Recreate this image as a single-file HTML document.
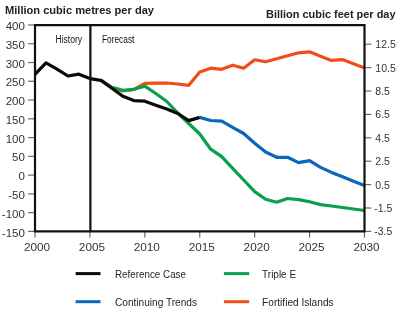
<!DOCTYPE html>
<html><head><meta charset="utf-8"><style>
html,body{margin:0;padding:0;background:#fff;}
svg{display:block;will-change:transform;}
text{font-family:"Liberation Sans",sans-serif;fill:#262626;}
.ax{font-size:10.5px;fill:#333;}
.tt{font-size:10.6px;font-weight:bold;fill:#222;}
.lg{font-size:10.5px;}
.an{font-size:10px;fill:#111;}
</style></head><body>
<svg width="400" height="315" viewBox="0 0 400 315">
<rect width="400" height="315" fill="#fff"/>
<text x="5" y="13.8" class="tt" textLength="149" lengthAdjust="spacingAndGlyphs">Million cubic metres per day</text>
<text x="266" y="17.7" class="tt" textLength="129.5" lengthAdjust="spacingAndGlyphs">Billion cubic feet per day</text>
<line x1="28" y1="25.00" x2="35" y2="25.00" stroke="#6a6a6a" stroke-width="1.2"/>
<text transform="translate(24.9,30.10) scale(1.1,1)" text-anchor="end" class="ax">400</text>
<line x1="28" y1="43.76" x2="35" y2="43.76" stroke="#6a6a6a" stroke-width="1.2"/>
<text transform="translate(24.9,48.86) scale(1.1,1)" text-anchor="end" class="ax">350</text>
<line x1="28" y1="62.53" x2="35" y2="62.53" stroke="#6a6a6a" stroke-width="1.2"/>
<text transform="translate(24.9,67.63) scale(1.1,1)" text-anchor="end" class="ax">300</text>
<line x1="28" y1="81.29" x2="35" y2="81.29" stroke="#6a6a6a" stroke-width="1.2"/>
<text transform="translate(24.9,86.39) scale(1.1,1)" text-anchor="end" class="ax">250</text>
<line x1="28" y1="100.05" x2="35" y2="100.05" stroke="#6a6a6a" stroke-width="1.2"/>
<text transform="translate(24.9,105.15) scale(1.1,1)" text-anchor="end" class="ax">200</text>
<line x1="28" y1="118.82" x2="35" y2="118.82" stroke="#6a6a6a" stroke-width="1.2"/>
<text transform="translate(24.9,123.92) scale(1.1,1)" text-anchor="end" class="ax">150</text>
<line x1="28" y1="137.58" x2="35" y2="137.58" stroke="#6a6a6a" stroke-width="1.2"/>
<text transform="translate(24.9,142.68) scale(1.1,1)" text-anchor="end" class="ax">100</text>
<line x1="28" y1="156.34" x2="35" y2="156.34" stroke="#6a6a6a" stroke-width="1.2"/>
<text transform="translate(24.9,161.44) scale(1.1,1)" text-anchor="end" class="ax">50</text>
<line x1="28" y1="175.11" x2="35" y2="175.11" stroke="#6a6a6a" stroke-width="1.2"/>
<text transform="translate(24.9,180.21) scale(1.1,1)" text-anchor="end" class="ax">0</text>
<line x1="28" y1="193.87" x2="35" y2="193.87" stroke="#6a6a6a" stroke-width="1.2"/>
<text transform="translate(24.9,198.97) scale(1.1,1)" text-anchor="end" class="ax">-50</text>
<line x1="28" y1="212.63" x2="35" y2="212.63" stroke="#6a6a6a" stroke-width="1.2"/>
<text transform="translate(24.9,217.73) scale(1.1,1)" text-anchor="end" class="ax">-100</text>
<line x1="28" y1="231.40" x2="35" y2="231.40" stroke="#6a6a6a" stroke-width="1.2"/>
<text transform="translate(24.9,236.50) scale(1.1,1)" text-anchor="end" class="ax">-150</text>
<line x1="364.5" y1="44.20" x2="371.3" y2="44.20" stroke="#6a6a6a" stroke-width="1.2"/>
<text transform="translate(375.3,48.10)" class="ax">12.5</text>
<line x1="364.5" y1="67.60" x2="371.3" y2="67.60" stroke="#6a6a6a" stroke-width="1.2"/>
<text transform="translate(375.3,71.50)" class="ax">10.5</text>
<line x1="364.5" y1="91.00" x2="371.3" y2="91.00" stroke="#6a6a6a" stroke-width="1.2"/>
<text transform="translate(375.3,94.90)" class="ax">8.5</text>
<line x1="364.5" y1="114.40" x2="371.3" y2="114.40" stroke="#6a6a6a" stroke-width="1.2"/>
<text transform="translate(375.3,118.30)" class="ax">6.5</text>
<line x1="364.5" y1="137.80" x2="371.3" y2="137.80" stroke="#6a6a6a" stroke-width="1.2"/>
<text transform="translate(375.3,141.70)" class="ax">4.5</text>
<line x1="364.5" y1="161.20" x2="371.3" y2="161.20" stroke="#6a6a6a" stroke-width="1.2"/>
<text transform="translate(375.3,165.10)" class="ax">2.5</text>
<line x1="364.5" y1="184.60" x2="371.3" y2="184.60" stroke="#6a6a6a" stroke-width="1.2"/>
<text transform="translate(375.3,188.50)" class="ax">0.5</text>
<line x1="364.5" y1="208.00" x2="371.3" y2="208.00" stroke="#6a6a6a" stroke-width="1.2"/>
<text transform="translate(374.2,211.90)" class="ax">-1.5</text>
<line x1="364.5" y1="231.40" x2="371.3" y2="231.40" stroke="#6a6a6a" stroke-width="1.2"/>
<text transform="translate(374.2,235.30)" class="ax">-3.5</text>
<line x1="35.00" y1="231" x2="35.00" y2="237.6" stroke="#6a6a6a" stroke-width="1.2"/>
<text transform="translate(37.00,251.1) scale(1.12,1)" text-anchor="middle" class="ax">2000</text>
<line x1="89.92" y1="231" x2="89.92" y2="237.6" stroke="#6a6a6a" stroke-width="1.2"/>
<text transform="translate(91.92,251.1) scale(1.12,1)" text-anchor="middle" class="ax">2005</text>
<line x1="144.83" y1="231" x2="144.83" y2="237.6" stroke="#6a6a6a" stroke-width="1.2"/>
<text transform="translate(146.83,251.1) scale(1.12,1)" text-anchor="middle" class="ax">2010</text>
<line x1="199.75" y1="231" x2="199.75" y2="237.6" stroke="#6a6a6a" stroke-width="1.2"/>
<text transform="translate(201.75,251.1) scale(1.12,1)" text-anchor="middle" class="ax">2015</text>
<line x1="254.66" y1="231" x2="254.66" y2="237.6" stroke="#6a6a6a" stroke-width="1.2"/>
<text transform="translate(256.66,251.1) scale(1.12,1)" text-anchor="middle" class="ax">2020</text>
<line x1="309.57" y1="231" x2="309.57" y2="237.6" stroke="#6a6a6a" stroke-width="1.2"/>
<text transform="translate(311.57,251.1) scale(1.12,1)" text-anchor="middle" class="ax">2025</text>
<line x1="364.49" y1="231" x2="364.49" y2="237.6" stroke="#6a6a6a" stroke-width="1.2"/>
<text transform="translate(366.49,251.1) scale(1.12,1)" text-anchor="middle" class="ax">2030</text>
<text x="55.5" y="42.5" class="an" textLength="26.5" lengthAdjust="spacingAndGlyphs">History</text>
<text x="101.9" y="42.5" class="an" textLength="32.5" lengthAdjust="spacingAndGlyphs">Forecast</text>
<polyline points="100.90,80.00 111.88,88.00 122.86,91.00 133.85,89.50 144.83,83.40 155.81,83.20 166.80,83.00 177.78,84.00 188.76,85.30 199.75,72.00 210.73,68.20 221.71,69.30 232.69,65.20 243.68,68.20 254.66,59.80 265.64,61.80 276.63,58.80 287.61,55.80 298.59,52.80 309.57,51.80 320.56,56.30 331.54,60.40 342.52,59.60 353.51,63.70 364.49,67.90" fill="none" stroke="#f04e18" stroke-width="3.2" stroke-linejoin="round"/>
<polyline points="100.90,80.30 111.88,87.30 122.86,90.30 133.85,89.30 144.83,86.20 155.81,93.50 166.80,101.50 177.78,113.00 188.76,123.50 199.75,134.00 210.73,149.20 221.71,156.60 232.69,168.30 243.68,180.00 254.66,191.60 265.64,199.20 276.63,202.20 287.61,198.50 298.59,199.60 309.57,201.80 320.56,204.60 331.54,206.00 342.52,207.50 353.51,209.00 364.49,210.50" fill="none" stroke="#08a04c" stroke-width="3.2" stroke-linejoin="round"/>
<polyline points="199.75,117.40 210.73,120.50 221.71,121.10 232.69,127.30 243.68,133.50 254.66,143.20 265.64,152.00 276.63,157.30 287.61,157.30 298.59,162.60 309.57,160.60 320.56,167.40 331.54,172.40 342.52,176.80 353.51,181.20 364.49,185.60" fill="none" stroke="#0968bd" stroke-width="3.2" stroke-linejoin="round"/>
<polyline points="35.00,74.30 45.98,62.90 56.97,69.20 67.95,76.00 78.93,74.20 89.92,78.60 100.90,80.30 111.88,88.30 122.86,96.30 133.85,100.60 144.83,101.20 155.81,105.20 166.80,109.00 177.78,113.50 188.76,120.60 199.75,117.40" fill="none" stroke="#0a0a0a" stroke-width="3.2" stroke-linejoin="round"/>
<line x1="90.4" y1="25" x2="90.4" y2="231.4" stroke="#111" stroke-width="2.2"/>
<path d="M35,231.4 V25.1 H364.5 V231.4 Z" fill="none" stroke="#111" stroke-width="2.2"/>
<line x1="75.6" y1="273.6" x2="100.5" y2="273.6" stroke="#0a0a0a" stroke-width="3"/>
<line x1="75.6" y1="301.7" x2="100.5" y2="301.7" stroke="#0968bd" stroke-width="3"/>
<line x1="223.9" y1="273.6" x2="249.2" y2="273.6" stroke="#08a04c" stroke-width="3"/>
<line x1="223.9" y1="301.7" x2="249.2" y2="301.7" stroke="#f04e18" stroke-width="3"/>
<text x="115" y="278" class="lg" textLength="71" lengthAdjust="spacingAndGlyphs">Reference Case</text>
<text x="115" y="306.1" class="lg" textLength="82" lengthAdjust="spacingAndGlyphs">Continuing Trends</text>
<text x="262.1" y="278" class="lg" textLength="34" lengthAdjust="spacingAndGlyphs">Triple E</text>
<text x="262.1" y="306.1" class="lg" textLength="71.5" lengthAdjust="spacingAndGlyphs">Fortified Islands</text>
</svg>
</body></html>
